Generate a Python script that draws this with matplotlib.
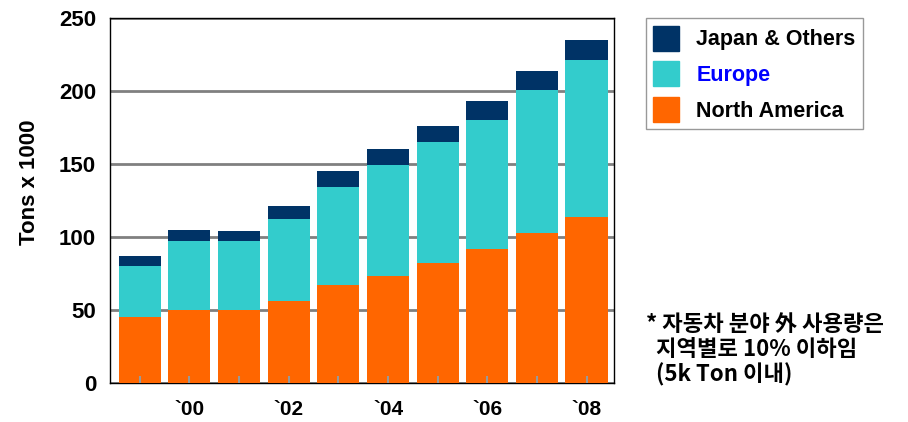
import numpy as np
import matplotlib
matplotlib.use("Agg")
import matplotlib.pyplot as plt
from matplotlib.patches import Patch

# data (tons x 1000)
years = ['1999', '2000', '2001', '2002', '2003', '2004', '2005', '2006', '2007', '2008']
tick_labels = ['', '`00', '', '`02', '', '`04', '', '`06', '', '`08']
north_america = [45, 50, 50, 56, 67, 73, 82, 92, 103, 114]
europe = [35, 47, 47, 56, 67, 76, 83, 88, 98, 107]
japan_others = [7, 8, 7, 9, 11, 11, 11, 13, 13, 14]

ORANGE = '#FF6600'
TEAL = '#33CCCC'
NAVY = '#003366'

FONT = ['Liberation Sans Narrow', 'Liberation Sans', 'DejaVu Sans']
KFONT = ['Noto Sans CJK KR', 'DejaVu Sans']

fig = plt.figure(figsize=(9.08, 4.22), dpi=100)
ax = fig.add_axes([0.1211, 0.0924, 0.555, 0.865])

x = np.arange(len(years))
na = np.array(north_america)
eu = np.array(europe)
jp = np.array(japan_others)

ax.bar(x, na, width=0.85, color=ORANGE, zorder=3)
ax.bar(x, eu, width=0.85, bottom=na, color=TEAL, zorder=3)
ax.bar(x, jp, width=0.85, bottom=na + eu, color=NAVY, zorder=3)

# small gray tick marks drawn over the bars
ax.vlines(x, 0, 0.018, transform=ax.get_xaxis_transform(), color='#999999',
          linewidth=1.5, zorder=4)

ax.set_xlim(-0.6, 9.55)
ax.set_ylim(0, 250)
ax.set_yticks([0, 50, 100, 150, 200, 250])
ax.yaxis.grid(True, color='#808080', linewidth=2, zorder=0)
ax.set_axisbelow(True)

ax.set_xticks(x)
ax.set_xticklabels(tick_labels)
ax.tick_params(axis='x', length=0, pad=12)
ax.tick_params(axis='y', length=0, pad=10)
for lab in ax.get_xticklabels():
    lab.set_fontfamily(FONT)
    lab.set_fontweight('bold')
    lab.set_fontsize(15)
for lab in ax.get_yticklabels():
    lab.set_fontfamily(FONT)
    lab.set_fontweight('bold')
    lab.set_fontsize(16)

for s in ax.spines.values():
    s.set_linewidth(1)
    s.set_color('black')

ax.set_ylabel('Tons x 1000', family=FONT, fontweight='bold', fontsize=16)
ax.yaxis.set_label_coords(-0.138, 0.55)

# legend
handles = [Patch(color=NAVY), Patch(color=TEAL), Patch(color=ORANGE)]
leg = fig.legend(handles, ['Japan & Others', 'Europe', 'North America'],
                 loc='upper left', bbox_to_anchor=(0.711, 0.957),
                 frameon=True, fancybox=False, handlelength=1.2,
                 handleheight=1.4, handletextpad=0.8, labelspacing=0.5,
                 borderpad=0.35, borderaxespad=0,
                 prop={'family': FONT, 'weight': 'bold', 'size': 15.5})
leg.get_frame().set_edgecolor('#808080')
leg.get_frame().set_linewidth(1)
leg.get_texts()[1].set_color('#0000FF')

# note
fig.text(0.712, 0.085, '* 자동차 분야 外 사용량은\n  지역별로 10% 이하임\n  (5k Ton 이내)',
         family=KFONT, fontweight='bold', fontsize=16, va='bottom', ha='left',
         linespacing=1.1)

fig.savefig('out.png', dpi=100)
